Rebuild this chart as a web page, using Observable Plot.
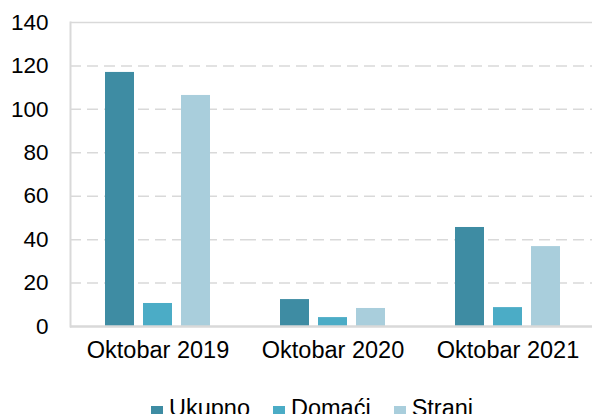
<!DOCTYPE html>
<html>
<head>
<meta charset="utf-8">
<script src="https://cdn.jsdelivr.net/npm/d3@7"></script>
<script src="https://cdn.jsdelivr.net/npm/@observablehq/plot@0.6"></script>
<style>
  body { margin: 0; background: #fff; font-family: "Liberation Sans", Arial, sans-serif; }
  #wrap { position: relative; width: 592px; height: 414px; overflow: hidden; }
  #legend { position: absolute; left: 32px; top: 397px; width: 560px; display: flex; justify-content: center; gap: 23px; font-size: 23.5px; color: #000; line-height: 23px; }
  #legend .item { display: flex; align-items: center; gap: 6px; }
  #legend .sw { width: 12px; height: 12px; display: inline-block; margin-top: 6px; }
</style>
</head>
<body>
<div id="wrap"><div id="chart"></div><div id="legend"></div></div>
<script>
const periods = ["Oktobar 2019", "Oktobar 2020", "Oktobar 2021"];
const series = ["Ukupno", "Domaći", "Strani"];
const ukupno = [117, 12.4, 45.6];
const domaci = [10.6, 4.1, 8.7];
const strani = [106.4, 8.3, 36.8];
const colors = ["#3e8ca3", "#4bacc6", "#a9cedc"];
const yTicks = [0, 20, 40, 60, 80, 100, 120, 140];

const values = [ukupno, domaci, strani];
const data = [];
periods.forEach((p, i) => series.forEach((s, j) => data.push({period: p, series: s, value: values[j][i]})));

const chart = Plot.plot({
  width: 592,
  height: 372,
  marginLeft: 70,
  marginRight: -3,
  marginTop: 22,
  marginBottom: 46,
  style: {fontFamily: "Liberation Sans, Arial, sans-serif", fontSize: "23px", color: "#000", overflow: "visible"},
  fx: {domain: periods, padding: 0, label: null},
  x: {domain: series, paddingInner: 0.23, paddingOuter: 0.86, axis: null},
  y: {domain: [0, 140], label: null},
  color: {domain: series, range: colors},
  marks: [
    Plot.gridY(yTicks.filter(d => d > 0 && d < 140), {stroke: "#d9d9d9", strokeOpacity: 1, strokeWidth: 1.5, strokeDasharray: "11,6"}),
    Plot.ruleY([140], {stroke: "#d9d9d9", strokeWidth: 1.5}),
    Plot.frame({anchor: "left", fx: () => periods[0], stroke: "#d9d9d9", strokeWidth: 2}),
    Plot.barY(data, {fx: "period", x: "series", y: "value", fill: "series"}),
    Plot.ruleY([0], {stroke: "#d9d9d9", strokeWidth: 2.5}),
    Plot.axisY({ticks: yTicks, tickSize: 0, tickPadding: 22, fontSize: 22.5}),
    Plot.axisFx({anchor: "bottom", tickSize: 0, tickPadding: 15, fontSize: 23.5, label: null})
  ]
});
document.getElementById("chart").appendChild(chart);

const legend = document.getElementById("legend");
series.forEach((s, i) => {
  const it = document.createElement("div");
  it.className = "item";
  it.innerHTML = `<span class="sw" style="background:${colors[i]}"></span><span>${s}</span>`;
  legend.appendChild(it);
});
</script>
</body>
</html>
